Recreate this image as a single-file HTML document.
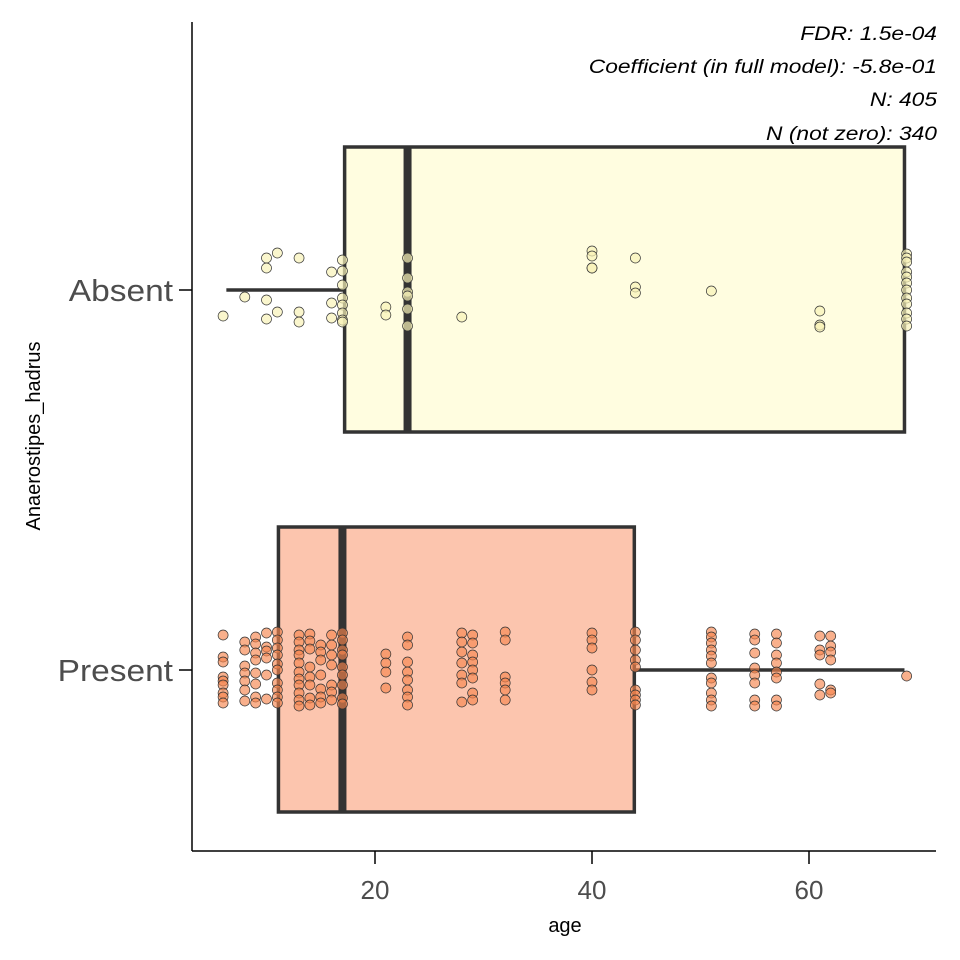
<!DOCTYPE html>
<html><head><meta charset="utf-8"><style>
body{margin:0;background:#fff}
svg{display:block;font-family:"Liberation Sans",sans-serif}
</style></head><body>
<svg id="chart" width="960" height="960">
<g id="boxes"></g><g id="pts"></g><g id="axes"></g>
<g font-style="italic" font-size="19" text-anchor="end" fill="#000" transform="translate(937,0) scale(1.2,1) translate(-937,0)">
<text x="937" y="40">FDR: 1.5e-04</text>
<text x="937" y="73">Coefficient (in full model): -5.8e-01</text>
<text x="937" y="106">N: 405</text>
<text x="937" y="140">N (not zero): 340</text>
</g>
</svg>
<script>
const categories=["Absent","Present"];
const boxMin=[6.3,11.1], boxQ1=[17.2,11.1], boxMed=[23,17], boxQ3=[68.8,43.9], boxMax=[68.8,68.8];
const xTicks=[20,40,60];
const absentAges=[6,8,10,10,10,10,11,11,13,13,13,16,16,16,17,17,17,17,17,17,17,17,21,21,23,23,23,23,23,23,28,40,40,40,40,44,44,44,51,61,61,61,69,69,69,69,69,69,69,69,69,69,69,69];
const absentJitter=[26,7,-32,-22,10,29,-37,22,-32,22,32,-18,13,28,-30,-19,-5,8,15,23,30,32,17,25,-32,-12,2,6,19,36,27,-39,-34,-22,-22,-32,-3,3,1,21,35,37,-36,-32,-28,-18,-13,-7,0,8,14,23,29,36];
const presentCols=[6,8,9,10,11,13,14,15,16,17,21,23,28,29,32,40,44,51,55,57,61,62,69];
const presentJitterCols=[
[-35,-13,-8,7,11,15,23,27,33],[-28,-20,-4,3,11,20,31],[-33,-26,-17,-10,3,14,27,33],[-37,-23,-19,-12,5,29],
[-38,-30,-22,-15,-6,0,13,20,27,33],[-35,-28,-20,-15,-7,2,9,15,23,30,36],[-36,-29,-21,-3,7,15,28,35],[-25,-18,-10,5,19,27,33],
[-35,-25,-15,-5,15,22,30],[-37,-30,-20,-15,-3,5,15,28,34],[-16,-7,2,18],[-33,-25,-8,2,10,20,27,35],
[-37,-28,-18,-7,5,13,32],[-35,-27,-15,-8,0,8,23,30],[-38,-30,7,13,20,30],[-37,-30,-22,0,12,20],
[-38,-30,-20,-10,-3,20,25,30,35],[-38,-33,-27,-20,-14,-7,8,13,23,30,36],[-36,-30,-17,-2,5,13,30,36],[-36,-27,-15,-7,2,8,30,36],
[-34,-20,-15,14,25],[-34,-24,-18,-10,20,23],[6]];
const NS="http://www.w3.org/2000/svg";
const X=v=>158+v*10.85;
const catY=[290,670];
function mk(tag,attrs,parent){const e=document.createElementNS(NS,tag);for(const k in attrs)e.setAttribute(k,attrs[k]);parent.appendChild(e);return e;}
const boxes=document.getElementById('boxes'),pts=document.getElementById('pts'),axes=document.getElementById('axes');
const fills=["#FFFDE0","#FCC5AE"];
categories.forEach((c,i)=>{
  const y=catY[i];
  const g=mk('g',{},boxes);
  
  
  const w1=mk('line',{x1:X(boxMin[i]),x2:X(boxQ1[i]),y1:y,y2:y,stroke:"#333",'stroke-width':3.5},g);
  
  
  const w2=mk('line',{x1:X(boxQ3[i]),x2:X(boxMax[i]),y1:y,y2:y,stroke:"#333",'stroke-width':3.5},g);
  
  
  const r=mk('rect',{x:X(boxQ1[i]),y:y-143,width:X(boxQ3[i])-X(boxQ1[i]),height:285,fill:fills[i],stroke:"#333",'stroke-width':3.5},g);
  
  
  const m=mk('line',{x1:X(boxMed[i]),x2:X(boxMed[i]),y1:y-143,y2:y+142,stroke:"#333",'stroke-width':8},g);
  
  
});
absentAges.forEach((a,k)=>{
  const c=mk('circle',{cx:X(a),cy:catY[0]+absentJitter[k],r:5,fill:"#F8F2B8","fill-opacity":0.7,stroke:"#333","stroke-width":0.7},pts);
  
  
});
presentCols.forEach((a,j)=>{presentJitterCols[j].forEach(o=>{
  const c=mk('circle',{cx:X(a),cy:catY[1]+o,r:5,fill:"#F6864F","fill-opacity":0.65,stroke:"#333","stroke-width":0.7},pts);
  
  
});});
const ya=mk('line',{x1:192,x2:192,y1:22,y2:851,stroke:"#000","stroke-width":1.5},axes);


const xa=mk('line',{x1:192,x2:936,y1:851,y2:851,stroke:"#000","stroke-width":1.5},axes);


categories.forEach((c,i)=>{
  mk('line',{x1:179,x2:192,y1:catY[i],y2:catY[i],stroke:"#000","stroke-width":1.5},axes);
  const t=mk('text',{x:173,y:catY[i]+11,'text-anchor':'end','font-size':31,fill:"#4d4d4d",transform:`translate(173,0) scale(1.08,1) translate(-173,0)`},axes);
  t.textContent=c;
  
  
});
xTicks.forEach(v=>{
  mk('line',{x1:X(v),x2:X(v),y1:851,y2:864,stroke:"#000","stroke-width":1.5},axes);
  const t=mk('text',{x:X(v),y:899,'text-anchor':'middle','font-size':26,fill:"#4d4d4d"},axes);
  t.textContent=v;
  
  
});
const xt=mk('text',{x:565,y:932,'text-anchor':'middle','font-size':20,fill:"#000"},axes);
xt.textContent="age";


const yt=mk('text',{x:0,y:0,'text-anchor':'middle','font-size':20,fill:"#000",transform:"translate(40,436) rotate(-90)"},axes);
yt.textContent="Anaerostipes_hadrus";


</script>
</body></html>
